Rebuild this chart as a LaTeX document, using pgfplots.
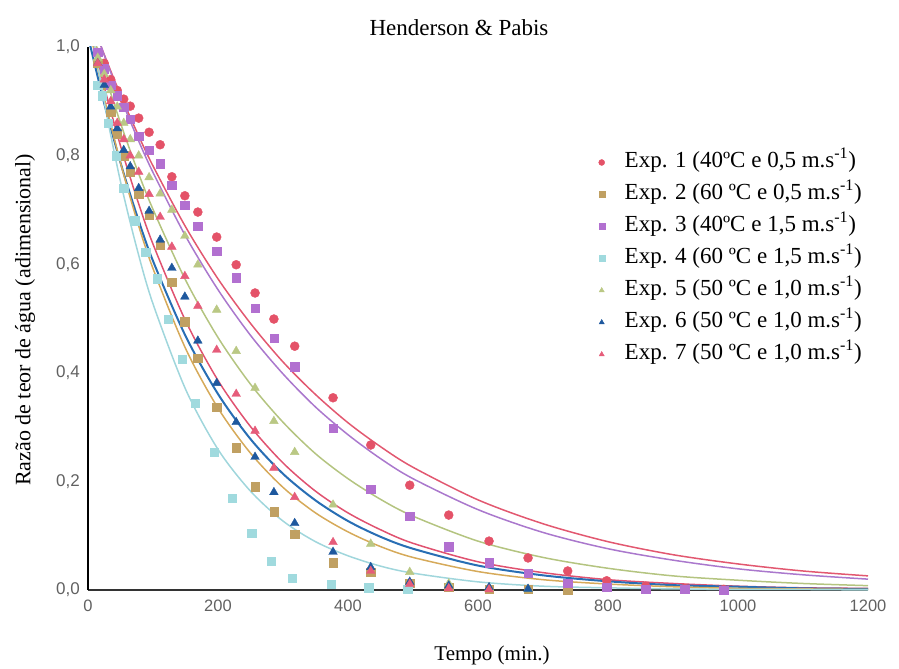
\documentclass[border=0pt]{standalone}
\usepackage{pgfplots}
\pgfplotsset{compat=1.18}
\usepackage{fontspec}
\setmainfont{Liberation Serif}
\newfontfamily\arialfont{Liberation Sans}
\definecolor{c1}{RGB}{228,82,104}
\definecolor{c1l}{RGB}{226,88,112}
\definecolor{c2}{RGB}{192,160,98}
\definecolor{c2l}{RGB}{214,170,90}
\definecolor{c3}{RGB}{178,112,208}
\definecolor{c3l}{RGB}{170,120,205}
\definecolor{c4}{RGB}{160,218,222}
\definecolor{c4l}{RGB}{160,214,220}
\definecolor{c5}{RGB}{186,200,132}
\definecolor{c5l}{RGB}{180,196,128}
\definecolor{c6}{RGB}{30,88,158}
\definecolor{c6l}{RGB}{40,110,180}
\definecolor{c7}{RGB}{230,92,122}
\definecolor{c7l}{RGB}{224,82,112}
\begin{document}
\begin{tikzpicture}
\path[use as bounding box] (-88bp,-79bp) rectangle (811bp,590bp);
\begin{axis}[
  at={(0,0)}, anchor=south west,
  scale only axis, width=780bp, height=543bp,
  xmin=0, xmax=1200, ymin=0, ymax=1,
  axis x line*=bottom, axis y line*=left,
  x axis line style={-, draw=black!80, line width=1.6bp},
  y axis line style={-, draw=black, line width=2.2bp},
  major tick length=0pt,
  xtick={0,200,400,600,800,1000,1200},
  ytick={0,0.2,0.4,0.6,0.8,1.0},
  /pgf/number format/assume math mode=true,
  xticklabel style={font=\arialfont\fontsize{16.5bp}{18bp}\selectfont, text=black!62, inner sep=0pt, yshift=-10bp, /pgf/number format/1000 sep={}},
  yticklabel style={font=\arialfont\fontsize{17bp}{18bp}\selectfont, text=black!62, inner sep=0pt, xshift=-8bp, /pgf/number format/.cd, fixed, fixed zerofill, precision=1, use comma},
  legend cell align=left,
  legend image post style={mark size=3bp},
  legend style={draw=none, fill=none, at={(0.6545,0.807)}, anchor=north west, inner sep=0pt,
    font=\fontsize{23bp}{28bp}\selectfont,
    nodes={inner sep=0pt, text height=16bp, text depth=5bp},
    row sep=11bp, /tikz/every odd column/.append style={column sep=20bp}},
]
% fitted curves
\addplot[forget plot, smooth, c1l, line width=1.5bp] coordinates {(0,1.065)(25,0.986)(50,0.912)(75,0.844)(100,0.781)(150,0.669)(200,0.573)(250,0.491)(300,0.420)(350,0.360)(400,0.308)(450,0.264)(500,0.226)(600,0.166)(700,0.122)(800,0.089)(900,0.065)(1000,0.048)(1100,0.035)(1200,0.026)};
\addplot[forget plot, smooth, c3l, line width=1.5bp] coordinates {(0,1.07)(25,0.985)(50,0.907)(75,0.835)(100,0.769)(150,0.652)(200,0.553)(250,0.469)(300,0.398)(350,0.337)(400,0.286)(450,0.242)(500,0.205)(600,0.148)(700,0.106)(800,0.076)(900,0.055)(1000,0.039)(1100,0.028)(1200,0.020)};
\addplot[forget plot, smooth, c5l, line width=1.5bp] coordinates {(0,1.056)(25,0.953)(50,0.860)(75,0.776)(100,0.701)(150,0.571)(200,0.465)(250,0.379)(300,0.309)(350,0.251)(400,0.205)(450,0.167)(500,0.136)(600,0.090)(700,0.060)(800,0.040)(900,0.026)(1000,0.018)(1100,0.012)(1200,0.008)};
\addplot[forget plot, smooth, c7l, line width=1.5bp] coordinates {(0,1.05)(25,0.927)(50,0.818)(75,0.722)(100,0.637)(150,0.496)(200,0.386)(250,0.301)(300,0.234)(350,0.182)(400,0.142)(450,0.111)(500,0.086)(600,0.052)(700,0.032)(800,0.019)(900,0.012)(1000,0.007)(1100,0.004)(1200,0.003)};
\addplot[forget plot, smooth, c6l, line width=2bp] coordinates {(0,1.02)(25,0.896)(50,0.787)(75,0.691)(100,0.606)(150,0.468)(200,0.361)(250,0.278)(300,0.214)(350,0.165)(400,0.127)(450,0.098)(500,0.076)(600,0.045)(700,0.027)(800,0.016)(900,0.009)(1000,0.006)(1100,0.003)(1200,0.002)};
\addplot[forget plot, smooth, c2l, line width=1.5bp] coordinates {(0,1.046)(25,0.907)(50,0.787)(75,0.682)(100,0.592)(150,0.445)(200,0.335)(250,0.252)(300,0.189)(350,0.142)(400,0.107)(450,0.080)(500,0.060)(600,0.034)(700,0.019)(800,0.011)(900,0.006)(1000,0.003)(1100,0.002)(1200,0.001)};
\addplot[forget plot, smooth, c4l, line width=1.5bp] coordinates {(0,1.073)(25,0.899)(50,0.752)(75,0.630)(100,0.527)(150,0.370)(200,0.259)(250,0.182)(300,0.127)(350,0.089)(400,0.063)(450,0.044)(500,0.031)(600,0.015)(700,0.007)(800,0.004)(900,0.002)(1000,0.001)(1100,0.001)(1200,0.0)};
% experimental points
\addplot[only marks, mark=*, mark size=4.5bp, mark options={draw=c1, fill=c1}] coordinates {(15,0.99)(25,0.97)(35,0.94)(45,0.92)(55,0.904)(65,0.891)(78,0.869)(94,0.843)(111,0.820)(129,0.761)(149,0.726)(169,0.696)(198,0.650)(228,0.599)(257,0.547)(286,0.499)(318,0.449)(377,0.354)(435,0.267)(495,0.193)(555,0.138)(617,0.090)(677,0.059)(738,0.035)(798,0.017)(858,0.007)(918,0.003)(978,0.001)};
\addlegendentry{Exp. 1 (40ºC e 0,5 m.s\textsuperscript{-1})}
\addplot[only marks, mark=square*, mark size=4.2bp, mark options={draw=c2, fill=c2}] coordinates {(15,0.97)(25,0.93)(35,0.88)(45,0.84)(55,0.80)(65,0.77)(78,0.73)(94,0.69)(111,0.635)(129,0.567)(149,0.494)(169,0.427)(198,0.337)(228,0.262)(257,0.190)(286,0.144)(318,0.103)(377,0.050)(435,0.033)(495,0.012)(555,0.005)(617,0.002)(677,0.001)(738,0.0)};
\addlegendentry{Exp. 2 (60 ºC e 0,5 m.s\textsuperscript{-1})}
\addplot[only marks, mark=square*, mark size=4.2bp, mark options={draw=c3, fill=c3}] coordinates {(15,0.99)(25,0.96)(35,0.93)(45,0.91)(55,0.889)(65,0.867)(78,0.836)(94,0.810)(111,0.785)(129,0.746)(149,0.709)(169,0.670)(198,0.624)(228,0.575)(257,0.519)(286,0.464)(318,0.411)(377,0.298)(435,0.186)(495,0.136)(555,0.080)(617,0.050)(677,0.031)(738,0.012)(798,0.005)(858,0.002)(918,0.001)(978,0.0)};
\addlegendentry{Exp. 3 (40ºC e 1,5 m.s\textsuperscript{-1})}
\addplot[only marks, mark=square*, mark size=4.2bp, mark options={draw=c4, fill=c4}] coordinates {(15,0.93)(22,0.91)(31,0.86)(43,0.80)(55,0.74)(72,0.680)(89,0.622)(106,0.573)(123,0.499)(145,0.425)(165,0.344)(194,0.254)(222,0.169)(252,0.105)(282,0.053)(314,0.022)(374,0.011)(432,0.004)(492,0.002)};
\addlegendentry{Exp. 4 (60 ºC e 1,5 m.s\textsuperscript{-1})}
\addplot[only marks, mark=triangle*, mark size=5bp, mark options={draw=c5, fill=c5}] coordinates {(15,0.98)(25,0.95)(35,0.92)(45,0.89)(55,0.86)(65,0.83)(78,0.80)(94,0.76)(111,0.73)(129,0.700)(149,0.652)(169,0.599)(198,0.516)(228,0.440)(257,0.372)(286,0.311)(318,0.254)(377,0.157)(435,0.085)(495,0.033)(555,0.012)(617,0.004)(677,0.001)};
\addlegendentry{Exp. 5 (50 ºC e 1,0 m.s\textsuperscript{-1})}
\addplot[only marks, mark=triangle*, mark size=5bp, mark options={draw=c6, fill=c6}] coordinates {(15,0.97)(25,0.93)(35,0.89)(45,0.85)(55,0.81)(65,0.78)(78,0.74)(94,0.698)(111,0.645)(129,0.593)(149,0.540)(169,0.459)(198,0.381)(228,0.309)(257,0.245)(286,0.180)(318,0.123)(377,0.070)(435,0.042)(495,0.015)(555,0.008)(617,0.005)(677,0.002)};
\addlegendentry{Exp. 6 (50 ºC e 1,0 m.s\textsuperscript{-1})}
\addplot[only marks, mark=triangle*, mark size=5bp, mark options={draw=c7, fill=c7}] coordinates {(15,0.97)(25,0.94)(35,0.90)(45,0.86)(55,0.83)(65,0.80)(78,0.77)(94,0.729)(111,0.687)(129,0.632)(149,0.578)(169,0.523)(198,0.442)(228,0.361)(257,0.293)(286,0.225)(318,0.171)(377,0.088)(435,0.035)(495,0.011)(555,0.003)(617,0.001)};
\addlegendentry{Exp. 7 (50 ºC e 1,0 m.s\textsuperscript{-1})}
\end{axis}
\node[anchor=base, font=\fontsize{23bp}{28bp}\selectfont] at (371bp,554bp) {Henderson \& Pabis};
\node[anchor=base, font=\fontsize{21bp}{25bp}\selectfont] at (404bp,-70bp) {Tempo (min.)};
\node[rotate=90, font=\fontsize{22bp}{26bp}\selectfont] at (-63bp,270bp) {Razão de teor de água (adimensional)};
\end{tikzpicture}
\end{document}
